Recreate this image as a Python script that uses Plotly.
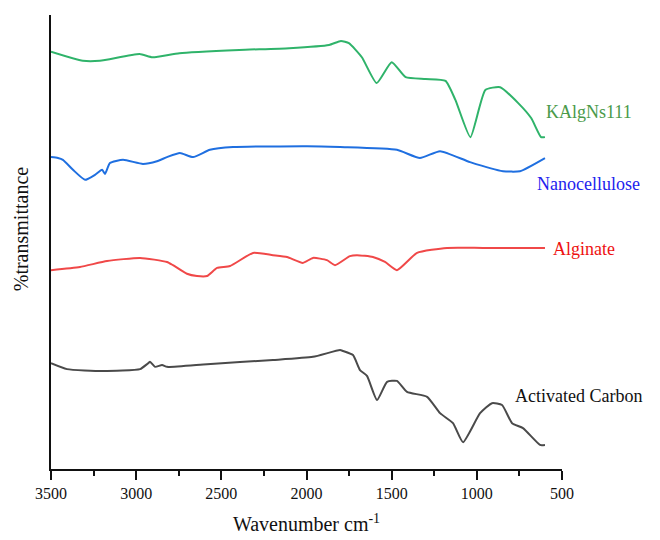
import plotly.graph_objects as go

# Wavenumber (cm-1) and %transmittance (arbitrary offset units)
kalg_wn = [3500, 3313, 3213, 2980, 2904, 2746, 2395, 2102, 1868, 1798, 1751, 1675, 1588, 1500,
           1418, 1301, 1184, 1126, 1038, 950, 863, 757, 681, 623, 600]
kalg_t = [91.9, 89.9, 89.9, 91.4, 90.7, 91.6, 92.3, 92.7, 93.4, 94.3, 93.8, 90.7, 85.0, 89.6,
          86.3, 85.9, 85.5, 81.3, 73.1, 83.5, 84.1, 80.6, 77.3, 73.1, 73.1]

nano_wn = [3500, 3459, 3430, 3371, 3300, 3242, 3200, 3183, 3154, 3077, 2960, 2878, 2819, 2743,
           2666, 2567, 2431, 1997, 1803, 1469, 1334, 1216, 1040, 846, 747, 600]
nano_t = [68.7, 68.5, 68.1, 65.9, 63.7, 64.8, 65.9, 65.0, 67.4, 68.1, 67.2, 67.8, 68.7, 69.6,
          68.7, 70.3, 70.9, 71.1, 70.9, 70.3, 68.5, 70.0, 67.6, 65.6, 65.6, 68.5]

alg_wn = [3500, 3330, 3171, 2977, 2819, 2784, 2702, 2643, 2584, 2525, 2449, 2314, 2197, 2114,
          2021, 1962, 1880, 1833, 1745, 1704, 1610, 1539, 1469, 1351, 1175, 964, 600]
alg_t = [43.8, 44.5, 45.8, 46.5, 45.6, 44.9, 43.0, 42.5, 42.5, 44.3, 44.7, 47.6, 47.1, 46.7,
         45.4, 46.5, 46.0, 44.9, 46.9, 47.1, 46.7, 45.6, 43.8, 47.6, 48.7, 48.7, 48.7]

ac_wn = [3500, 3406, 3195, 2977, 2936, 2919, 2889, 2848, 2819, 2584, 2197, 1962, 1803, 1786,
         1727, 1686, 1645, 1586, 1527, 1469, 1410, 1292, 1216, 1140, 1081, 981, 911, 852, 793,
         729, 629, 600]
ac_t = [23.3, 22.0, 21.6, 22.0, 23.1, 23.6, 22.5, 22.9, 22.5, 23.1, 24.0, 24.7, 26.2, 26.0,
        25.1, 21.8, 20.5, 15.2, 19.2, 19.4, 17.0, 15.9, 12.3, 10.1, 5.9, 12.3, 14.5, 14.1, 10.1,
        9.0, 5.3, 5.3]

names = ["KAlgNs111", "Nanocellulose", "Alginate", "Activated Carbon"]
x_ticks = [3500, 3000, 2500, 2000, 1500, 1000, 500]

SERIF = '"Liberation Serif", "Times New Roman", "DejaVu Serif", serif'

series = [
    (kalg_wn, kalg_t, "#2fb36a"),
    (nano_wn, nano_t, "#1f6fe0"),
    (alg_wn, alg_t, "#f04848"),
    (ac_wn, ac_t, "#4a4a4a"),
]

fig = go.Figure()
for (wn, t, c), n in zip(series, names):
    fig.add_trace(go.Scatter(x=wn, y=t, mode="lines", name=n,
                             line=dict(color=c, width=2, shape="spline", smoothing=0.5)))

label_style = [
    (0.965, 0.786, "#4a9a4a"),
    (0.948, 0.628, "#2222ee"),
    (0.978, 0.484, "#ee1111"),
    (0.904, 0.161, "#111111"),
]
for n, (px, py, c) in zip(names, label_style):
    fig.add_annotation(text=n, xref="paper", yref="paper", x=px, y=py, xanchor="left",
                       yanchor="middle", showarrow=False,
                       font=dict(family=SERIF, size=18, color=c))

# y-axis title placed as rotated text
fig.add_annotation(text="%transmittance", xref="paper", yref="paper", x=-0.057, y=0.53,
                   xanchor="center", yanchor="middle", textangle=-90, showarrow=False,
                   font=dict(family=SERIF, size=20, color="#111111"))

fig.update_layout(
    width=652, height=532,
    margin=dict(l=43, r=98, t=7, b=71, autoexpand=False),
    paper_bgcolor="white", plot_bgcolor="white",
    showlegend=False,
    font=dict(family=SERIF, color="#111111"),
    xaxis=dict(range=[3500, 500], tickvals=x_ticks, ticks="outside", ticklen=9, tickwidth=2,
               tickcolor="#111", showline=True, linecolor="#111", linewidth=2,
               showgrid=False, zeroline=False, tickfont=dict(family=SERIF, size=16),
               automargin=False,
               minor=dict(dtick=250, ticks="outside", ticklen=5, tickwidth=2, tickcolor="#111"),
               title=dict(text="Wavenumber cm<sup>-1</sup>", font=dict(family=SERIF, size=20),
                          standoff=16)),
    yaxis=dict(range=[0, 100], showticklabels=False, ticks="", showline=True,
               linecolor="#111", linewidth=2, showgrid=False, zeroline=False,
               automargin=False),
)

fig.write_html("out.html")
